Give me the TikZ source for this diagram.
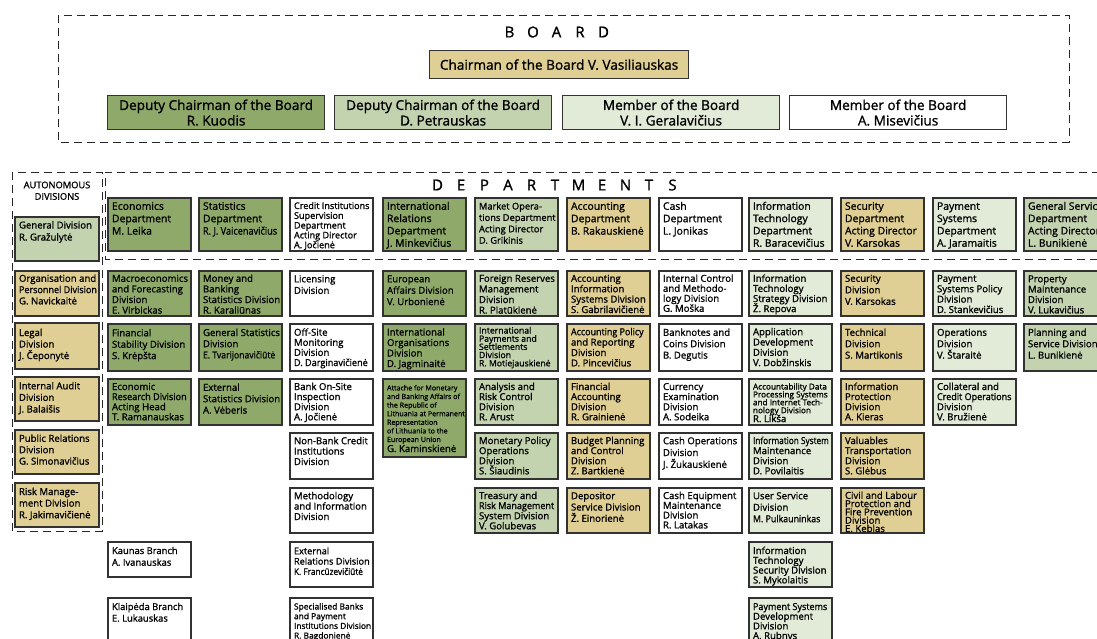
\documentclass[tikz,border=0pt]{standalone}
\usepackage{fontspec}
\setmainfont{Open Sans}[FakeBold=1.2]
\usepackage{graphicx}

\definecolor{dg}{RGB}{143,169,107}
\definecolor{lg}{RGB}{196,211,175}
\definecolor{vg}{RGB}{226,234,216}
\definecolor{tn}{RGB}{224,207,148}
\definecolor{ln}{RGB}{50,50,50}

\tikzset{
  obox/.style={draw=ln, line width=1.2pt, inner sep=0pt, outer sep=0pt,
    anchor=north west, minimum width=83pt},
  otext/.style={inner sep=0pt, outer sep=0pt, anchor=north west, align=left, text=black},
  frame/.style={draw=black!85, line width=0.9pt, dash pattern=on 8pt off 5pt},
  bbox/.style={draw=ln, line width=1.2pt, inner sep=0pt, anchor=north west,
    align=center, font=\fontsize{13.6}{15.5}\selectfont},
  heading/.style={font=\fontsize{15}{18}\selectfont, inner sep=0pt},
}

% horizontally condensed line
\newcommand\nar[2][0.9]{\scalebox{#1}[1]{#2}}
% evenly spaced heading letter
\newcommand\lsp[1]{\makebox[23.5pt]{#1}}
% unit box: name, x, y, height, fill, font size, line skip, first baseline, text
\newcommand\ob[9]{%
  \node[obox, fill=#5, minimum height=#4pt] (#1) at (#2,#3) {};
  \node[otext, font=\fontsize{#6}{#7}\selectfont]
    (#1-t) at ([xshift=4pt]#1.north west) {\rule{0pt}{#8pt}#9};
}

\begin{document}
\lineskiplimit=-20pt
\begin{tikzpicture}[x=1pt, y=-1pt]
\useasboundingbox (0,0) rectangle (1097,638);
\clip (0,0) rectangle (1097,638);

% ---------- board ----------
\draw[frame] (58,15) rectangle (1069,142);
\node[heading] (boardtitle) at (556.5,32) {\lsp{B}\lsp{O}\lsp{A}\lsp{R}\lsp{D}};
\node[bbox, fill=tn, minimum width=259pt, minimum height=28pt] (chair) at (429,50)
  {Chairman of the Board V. Vasiliauskas};
\node[bbox, fill=dg, minimum width=217pt, minimum height=34pt] (kuodis) at (107,95)
  {Deputy Chairman of the Board\\R. Kuodis};
\node[bbox, fill=lg, minimum width=217pt, minimum height=34pt] (petrauskas) at (334,95)
  {Deputy Chairman of the Board\\D. Petrauskas};
\node[bbox, fill=vg, minimum width=217pt, minimum height=34pt] (geralavicius) at (562,95)
  {Member of the Board\\V. I. Geralavičius};
\node[bbox, fill=white, minimum width=217pt, minimum height=34pt] (misevicius) at (789,95)
  {Member of the Board\\A. Misevičius};

% ---------- frames ----------
\draw[frame] (12,172) rectangle (102,531);
\draw[frame] (1100,172) -- (105,172) -- (105,259) -- (1100,259);
\node[font=\fontsize{9.3}{11.5}\selectfont, align=center, inner sep=0pt] (autotitle)
  at (57,190.7) {AUTONOMOUS\\DIVISIONS};
\node[heading] (depttitle) at (555,185)
  {\lsp{D}\lsp{E}\lsp{P}\lsp{A}\lsp{R}\lsp{T}\lsp{M}\lsp{E}\lsp{N}\lsp{T}\lsp{S}};

% ---------- autonomous divisions ----------
\begin{scope}[obox/.append style={minimum width=84pt}]
\ob{gendiv}{15}{217}{44}{lg}{9.6}{12}{11.5}{General Division\\R. Gražulytė}
\ob{orgdiv}{15}{271}{45}{tn}{9.6}{11.3}{10.8}{Organisation and\\\nar[0.94]{Personnel Division}\\G. Navickaitė}
\ob{legal}{15}{323}{46}{tn}{9.6}{11.5}{13}{Legal\\Division\\J. Čeponytė}
\ob{audit}{15}{377}{44}{tn}{9.6}{11.6}{12.3}{Internal Audit\\Division\\J. Balaišis}
\ob{prdiv}{15}{430}{44}{tn}{9.6}{11.4}{11.8}{Public Relations\\Division\\G. Simonavičius}
\ob{riskdiv}{15}{483}{44}{tn}{9.6}{11.6}{12}{Risk Manage-\\ment Division\\R. Jakimavičienė}
\end{scope}

% ---------- departments ----------
\ob{econ}{108}{198}{53}{dg}{10.4}{12.4}{11.8}{Economics\\Department\\M. Leika}
\ob{stat}{199}{198}{53}{dg}{10.4}{12.4}{11.8}{Statistics\\Department\\\nar[0.88]{R. J. Vaicenavičius}}
\ob{credit}{290}{198}{53}{white}{9.1}{9.8}{11}{Credit Institutions\\Supervision\\Department\\Acting Director\\A. Jočienė}
\ob{intrel}{383}{198}{53}{dg}{10.4}{12.3}{11.8}{International\\Relations\\Department\\J. Minkevičius}
\ob{market}{475}{198}{53}{lg}{9.3}{11.4}{11.5}{Market Opera-\\tions Department\\Acting Director\\D. Grikinis}
\ob{acc}{567}{198}{53}{tn}{10.4}{12.4}{11.8}{Accounting\\Department\\B. Rakauskienė}
\ob{cash}{659}{198}{53}{white}{10.4}{12.4}{11.8}{Cash\\Department\\L. Jonikas}
\ob{itdep}{749}{198}{53}{vg}{10.4}{12.3}{11.8}{Information\\Technology\\Department\\R. Baracevičius}
\ob{secdep}{841}{198}{53}{tn}{10.4}{12.3}{11.8}{Security\\Department\\Acting Director\\V. Karsokas}
\ob{paydep}{933}{198}{53}{vg}{10.4}{12.3}{11.8}{Payment\\Systems\\Department\\A. Jaramaitis}
\ob{gensvc}{1024}{198}{53}{lg}{10.4}{12.3}{11.8}{General Services\\Department\\Acting Director\\L. Bunikienė}

% ---------- divisions, row 1 ----------
\ob{macro}{108}{271}{45}{dg}{9.6}{10.6}{10.8}{Macroeconomics\\and Forecasting\\Division\\E. Virbickas}
\ob{money}{199}{271}{45}{dg}{9.6}{10.6}{10.8}{Money and\\Banking\\Statistics Division\\R. Karaliūnas}
\ob{licensing}{290}{271}{45}{white}{9.6}{11.6}{11.3}{Licensing\\Division}
\ob{euro}{383}{271}{45}{dg}{9.6}{11.4}{11.3}{European\\Affairs Division\\V. Urbonienė}
\ob{forres}{475}{271}{45}{lg}{9.6}{10.6}{10.8}{Foreign Reserves\\Management\\Division\\R. Platūkienė}
\ob{accinf}{567}{271}{45}{tn}{9.6}{10.4}{10.8}{Accounting\\Information\\Systems Division\\S. Gabrilavičienė}
\ob{intctl}{659}{271}{45}{white}{9.6}{10}{10.8}{Internal Control\\and Methodo-\\logy Division\\G. Moška}
\ob{itstrat}{749}{271}{45}{vg}{9.6}{10.1}{10.8}{Information\\Technology\\Strategy Division\\Ž. Repova}
\ob{secdiv}{841}{271}{45}{tn}{9.6}{11.5}{10.8}{Security\\Division\\V. Karsokas}
\ob{paypol}{933}{271}{45}{vg}{9.6}{10.4}{10.8}{Payment\\Systems Policy\\Division\\D. Stankevičius}
\ob{property}{1024}{271}{45}{lg}{9.6}{10.4}{11.2}{Property\\Maintenance\\Division\\V. Lukavičius}

% ---------- row 2 ----------
\ob{finstab}{108}{324}{47}{dg}{9.6}{11.4}{12.3}{Financial\\Stability Division\\S. Krėpšta}
\ob{genstat}{199}{324}{47}{dg}{9.6}{11.2}{12}{General Statistics\\Division\\\nar[0.9]{E. Tvarijonavičiūtė}}
\ob{offsite}{290}{324}{47}{white}{9.6}{10.1}{11.7}{Off-Site\\Monitoring\\Division\\\nar[0.95]{D. Darginavičienė}}
\ob{intorg}{383}{324}{47}{dg}{9.6}{10.5}{11.5}{International\\Organisations\\Division\\D. Jagminaitė}
\ob{intpay}{475}{324}{47}{lg}{8.7}{8.2}{9.5}{International\\Payments and\\Settlements\\Division\\R. Motiejauskienė}
\ob{accpol}{567}{324}{47}{tn}{9.6}{10.4}{11.2}{\nar[0.93]{Accounting Policy}\\and Reporting\\Division\\D. Pincevičius}
\ob{banknotes}{659}{324}{47}{white}{9.6}{11.4}{11.8}{Banknotes and\\Coins Division\\B. Degutis}
\ob{appdev}{749}{324}{47}{vg}{9.6}{10.3}{11.2}{Application\\Development\\Division\\V. Dobžinskis}
\ob{technical}{841}{324}{47}{tn}{9.6}{11.4}{11.8}{Technical\\Division\\S. Martikonis}
\ob{operations}{933}{324}{47}{vg}{9.6}{11.4}{11.8}{Operations\\Division\\V. Štaraitė}
\ob{planning}{1024}{324}{47}{lg}{9.6}{11.4}{11.8}{Planning and\\Service Division\\L. Bunikienė}

% ---------- row 3 ----------
\ob{econres}{108}{379}{46}{dg}{9.6}{10.1}{11}{Economic\\\nar[0.95]{Research Division}\\Acting Head\\T. Ramanauskas}
\ob{extstat}{199}{379}{46}{dg}{9.6}{11.4}{11.8}{External\\Statistics Division\\A. Vėberis}
\ob{onsite}{290}{379}{46}{white}{9.6}{10.1}{11}{Bank On-Site\\Inspection\\Division\\A. Jočienė}
\ob{attache}{383}{379}{78}{dg}{7.1}{8.6}{11.4}{Attache for Monetary\\and Banking Affairs of\\the Republic of\\Lithuania at Permanent\\Representation\\of Lithuania to the\\European Union\\[1.4pt]{\fontsize{9.6}{9.6}\selectfont G. Kaminskienė}}
\ob{analysis}{475}{379}{46}{lg}{9.6}{10.1}{11}{Analysis and\\Risk Control\\Division\\R. Arust}
\ob{finacc}{567}{379}{46}{tn}{9.6}{10.1}{11}{Financial\\Accounting\\Division\\R. Grainienė}
\ob{currency}{659}{379}{46}{white}{9.6}{10.1}{11}{Currency\\Examination\\Division\\A. Sodeika}
\ob{accdata}{749}{379}{46}{vg}{8.2}{7.9}{10.5}{Accountability Data\\Processing Systems\\and Internet Tech-\\nology Division\\[1pt]{\fontsize{9.6}{9.6}\selectfont R. Likša}}
\ob{infprot}{841}{379}{46}{tn}{9.6}{10.1}{11}{Information\\Protection\\Division\\A. Kieras}
\ob{collateral}{933}{379}{46}{vg}{9.6}{10.1}{11}{Collateral and\\\nar[0.94]{Credit Operations}\\Division\\V. Bružienė}

% ---------- row 4 ----------
\ob{nonbank}{290}{433}{46}{white}{9.6}{10.4}{11.2}{Non-Bank Credit\\Institutions\\Division}
\ob{monpol}{475}{433}{46}{lg}{9.6}{10.1}{11}{Monetary Policy\\Operations\\Division\\S. Šiaudinis}
\ob{budget}{567}{433}{46}{tn}{9.6}{10.1}{11}{Budget Planning\\and Control\\Division\\Z. Bartkienė}
\ob{cashops}{659}{433}{46}{white}{9.6}{11.8}{11.2}{Cash Operations\\Division\\J. Žukauskienė}
\ob{ismaint}{749}{433}{46}{vg}{9.6}{10.1}{11}{\nar[0.86]{Information System}\\Maintenance\\Division\\D. Povilaitis}
\ob{valuables}{841}{433}{46}{tn}{9.6}{10.1}{11}{Valuables\\Transportation\\Division\\S. Glėbus}

% ---------- row 5 ----------
\ob{methodology}{290}{488}{45}{white}{9.6}{10.4}{11.2}{Methodology\\and Information\\Division}
\ob{treasury}{475}{488}{45}{lg}{9.6}{10.1}{11}{Treasury and\\\nar[0.94]{Risk Management}\\System Division\\V. Golubevas}
\ob{depositor}{567}{488}{45}{tn}{9.6}{11.3}{11.2}{Depositor\\Service Division\\Ž. Einorienė}
\ob{cashequip}{659}{488}{45}{white}{9.6}{9.8}{11}{Cash Equipment\\Maintenance\\Division\\R. Latakas}
\ob{usersvc}{749}{488}{45}{vg}{9.6}{11.5}{11.2}{User Service\\Division\\\nar[0.92]{M. Pulkauninkas}}
\ob{civil}{841}{488}{45}{tn}{9.6}{8.3}{10.8}{Civil and Labour\\Protection and\\Fire Prevention\\Division\\E. Keblas}

% ---------- row 6 ----------
\ob{kaunas}{108}{542}{35}{white}{9.4}{11.7}{12}{Kaunas Branch\\A. Ivanauskas}
\ob{extrel}{290}{542}{45}{white}{9.2}{10.3}{12.3}{External\\Relations Division\\\nar[0.9]{K. Francūzevičiūtė}}
\ob{itsec}{749}{542}{45}{vg}{9.6}{9.8}{12}{Information\\Technology\\Security Division\\S. Mykolaitis}

% ---------- row 7 ----------
\ob{klaipeda}{108}{598}{46}{white}{9.4}{11.6}{12}{Klaipėda Branch\\E. Lukauskas}
\ob{specbank}{290}{598}{46}{white}{8.4}{9.7}{11.5}{Specialised Banks\\and Payment\\Institutions Division\\R. Bagdonienė}
\ob{paydev}{749}{598}{46}{vg}{9.6}{9.7}{12}{\nar[0.94]{Payment Systems}\\Development\\Division\\A. Rubnys}
\end{tikzpicture}
\end{document}
